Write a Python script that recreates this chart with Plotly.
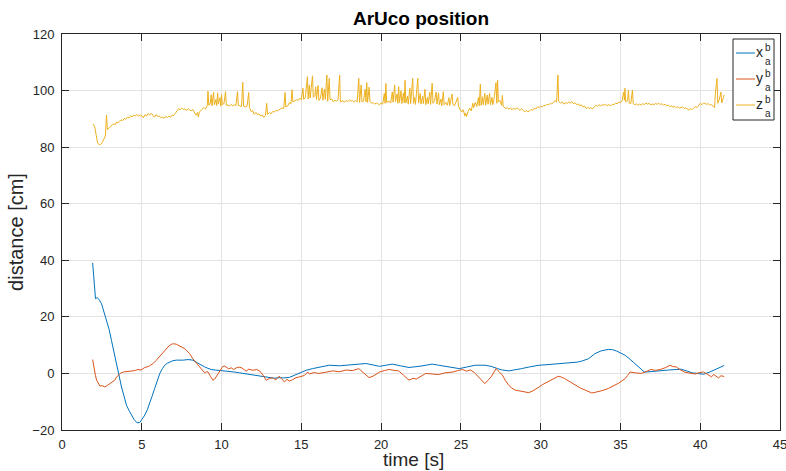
import plotly.graph_objects as go

# ---- ArUco marker position over time (cm) ----

# x component
t_x = [1.92, 2.02, 2.1, 2.2, 2.33, 2.48, 2.6, 2.79, 2.95, 3.1, 3.25, 3.42, 3.57, 3.73, 3.9, 4.04,
       4.2, 4.35, 4.52, 4.71, 4.88, 5.03, 5.19, 5.35, 5.5, 5.65, 5.81, 5.97, 6.13, 6.29, 6.44, 6.6,
       6.75, 6.95, 7.17, 7.4, 7.6, 7.9, 8.2, 8.5, 8.7, 8.94, 9.15, 9.35, 9.6, 9.88, 10.2, 10.5,
       10.8, 11.13, 11.45, 11.75, 12.05, 12.38, 12.7, 13.0, 13.3, 13.6, 13.9, 14.25, 14.5, 14.77,
       15.05, 15.3, 15.7, 16.2, 16.75, 17.4, 18.0, 18.5, 19.04, 19.5, 19.9, 20.3, 20.7, 21.2,
       21.75, 22.5, 23.2, 23.6, 24.0, 24.5, 24.9, 25.4, 25.9, 26.5, 26.9, 27.3, 27.6, 28.0,
       28.4, 28.8, 29.3, 29.9, 30.4, 30.9, 31.4, 31.96, 32.3, 32.6, 33.0, 33.4, 33.8, 34.25,
       34.5, 34.77, 35.05, 35.3, 35.6, 35.9, 36.2, 36.5, 36.85, 37.2, 37.6, 38.0, 38.4, 38.8,
       39.15, 39.5, 39.85, 40.2, 40.6, 40.95, 41.3, 41.5]
x_ab = [39.1, 30.5, 26.4, 26.8, 26.1, 24.6, 22.4, 19.4, 15.6, 11.7, 7.6, 3.5, -0.7, -4.8, -8.3, -11.2,
        -13.1, -14.7, -16.3, -17.5, -17.3, -16.1, -14.7, -12.8, -10.6, -8.0, -5.3, -2.6, 0.0, 1.7, 2.9, 3.6,
        4.1, 4.5, 4.7, 4.6, 4.7, 4.9, 4.7, 3.7, 3.0, 2.3, 1.8, 1.4, 1.2, 1.1, 0.9, 0.8,
        0.5, 0.2, -0.1, -0.3, -0.6, -1.0, -1.3, -1.6, -1.7, -1.5, -1.6, -1.4, -0.8, 0.0,
        0.6, 1.1, 1.7, 2.3, 2.9, 2.7, 2.9, 3.1, 3.5, 3.0, 2.5, 2.9, 3.3, 2.7,
        2.1, 2.6, 3.3, 2.9, 2.5, 2.1, 1.7, 2.3, 2.9, 2.9, 2.5, 1.7, 1.2, 0.9,
        1.2, 1.7, 2.3, 2.9, 3.1, 3.3, 3.4, 3.7, 4.0, 4.4, 5.2, 7.0, 8.0, 8.5,
        8.4, 7.9, 7.2, 6.4, 5.0, 3.5, 2.0, 0.5, 0.6, 0.9, 1.0, 1.2, 1.3, 1.5,
        0.9, 0.2, 0.0, -0.3, 0.5, 1.5, 2.5, 2.8]

# y component
t_y = [1.92, 2.02, 2.1, 2.17, 2.28, 2.38, 2.5, 2.69, 2.85, 3.0, 3.15, 3.3, 3.42, 3.52, 3.65, 3.83,
       4.0, 4.2, 4.35, 4.55, 4.77, 4.95, 5.19, 5.4, 5.55, 5.71, 5.9, 6.13, 6.33, 6.54, 6.7, 6.85,
       7.0, 7.17, 7.33, 7.48, 7.65, 7.79, 8.0, 8.2, 8.4, 8.63, 8.8, 8.94, 9.05, 9.15, 9.3, 9.46,
       9.57, 9.67, 9.78, 9.88, 10.0, 10.08, 10.2, 10.3, 10.45, 10.6, 10.75, 10.9, 11.05, 11.23,
       11.4, 11.54, 11.7, 11.96, 12.2, 12.4, 12.6, 12.8, 13.0, 13.2, 13.4, 13.6, 13.75, 13.94,
       14.1, 14.25, 14.45, 14.67, 14.9, 15.2, 15.4, 15.5, 15.8, 16.1, 16.5, 16.96, 17.4, 17.8,
       18.2, 18.6, 18.9, 19.25, 19.55, 19.9, 20.2, 20.5, 20.8, 21.1, 21.4, 21.75, 22.0, 22.2,
       22.5, 22.8, 23.2, 23.6, 24.0, 24.5, 24.8, 25.1, 25.35, 25.6, 25.85, 26.1, 26.3, 26.5,
       26.7, 26.9, 27.05, 27.2, 27.4, 27.6, 27.8, 28.0, 28.2, 28.4, 28.7, 29.0, 29.25, 29.5,
       29.7, 29.9, 30.1, 30.3, 30.5, 30.7, 30.9, 31.1, 31.3, 31.5, 31.85, 32.2, 32.5, 32.8,
       33.0, 33.2, 33.4, 33.6, 33.9, 34.25, 34.6, 34.9, 35.1, 35.3, 35.45, 35.6, 35.95, 36.3,
       36.6, 36.9, 37.2, 37.5, 37.8, 38.1, 38.3, 38.5, 38.75, 39.0, 39.35, 39.7, 39.95, 40.2,
       40.45, 40.7, 40.85, 41.0, 41.15, 41.3, 41.5]
y_ab = [4.9, 1.1, -0.8, -2.4, -3.8, -4.5, -4.3, -4.8, -4.2, -3.6, -3.0, -2.4, -1.3, -0.6, 0.0, 0.5,
        0.6, 0.9, 0.8, 1.0, 1.4, 1.2, 2.1, 2.4, 2.9, 3.5, 4.6, 6.1, 7.4, 8.8, 9.7, 10.3,
        10.5, 10.3, 9.9, 9.3, 8.9, 8.2, 7.0, 5.2, 3.8, 2.1, 1.0, 0.2, 0.6, 0.5, -1.0, -2.4,
        -2.0, -1.2, -0.3, 0.5, 1.8, 2.5, 2.6, 2.1, 1.6, 2.0, 1.4, 1.9, 2.2, 2.1,
        1.3, 0.8, 1.5, 1.1, 1.4, 0.8, -0.6, -2.4, -1.8, -1.5, -2.3, -1.0, -1.8, -3.0,
        -2.1, -2.7, -2.2, -1.5, -1.2, -0.7, 0.5, -0.2, 0.3, 0.0, 0.4, 0.9, 0.6, 1.2,
        1.0, 1.7, 0.2, -1.5, -0.8, 0.5, 1.0, 1.4, 1.1, 0.9, -0.6, -2.4, -1.7, -2.0,
        -1.0, 0.0, -0.2, -0.4, 0.2, 0.5, 1.0, 1.4, 0.8, 1.2, 0.3, -1.2, -2.4, -3.6,
        -2.4, -1.2, 0.2, 1.7, 0.6, -0.6, -2.6, -4.2, -5.2, -5.9, -6.2, -6.5, -6.8, -6.2,
        -5.6, -4.8, -4.0, -3.4, -2.8, -2.2, -1.5, -1.0, -1.3, -1.8, -3.0, -4.2, -5.2, -5.9,
        -6.3, -6.9, -6.7, -6.5, -6.0, -5.3, -4.4, -3.4, -2.6, -1.8, -0.7, 0.5, 0.2, 0.0,
        0.6, 1.4, 1.1, 1.4, 2.0, 2.9, 2.4, 2.3, 1.3, 0.5, 0.1, -0.2, 0.3, 0.5,
        -0.3, -1.2, -0.4, -0.9, -1.6, -0.8, -1.1]

# z component
t_z = [1.95, 2.05, 2.15, 2.23, 2.32, 2.42, 2.52, 2.62, 2.72, 2.79, 2.84, 2.95, 3.05, 3.15, 3.25, 3.35,
       3.42, 3.5, 3.6, 3.7, 3.8, 3.9, 4.0, 4.1, 4.2, 4.3, 4.4, 4.5, 4.6, 4.7, 4.8, 4.9,
       5.0, 5.1, 5.2, 5.3, 5.4, 5.5, 5.6, 5.7, 5.8, 5.9, 6.0, 6.1, 6.2, 6.3, 6.4, 6.5,
       6.6, 6.7, 6.8, 6.9, 7.0, 7.1, 7.2, 7.3, 7.4, 7.5, 7.6, 7.7, 7.8, 7.9, 8.0, 8.1,
       8.2, 8.3, 8.4, 8.5, 8.55, 8.6, 8.7, 8.8, 8.9, 9.0, 9.1, 9.15, 9.2, 9.3, 9.35, 9.4,
       9.5, 9.55, 9.65, 9.7, 9.75, 9.8, 9.9, 9.95, 10.0, 10.05, 10.15, 10.25, 10.3, 10.4, 10.5, 10.6,
       10.7, 10.8, 10.9, 11.0, 11.05, 11.15, 11.25, 11.33, 11.38, 11.5, 11.6, 11.7, 11.75, 11.85, 11.95, 12.05,
       12.15, 12.25, 12.35, 12.45, 12.55, 12.65, 12.75, 12.83, 12.88, 13.0, 13.1, 13.2, 13.3, 13.4, 13.5, 13.6,
       13.7, 13.8, 13.9, 13.98, 14.03, 14.15, 14.25, 14.35, 14.42, 14.47, 14.6, 14.7, 14.8, 14.9, 15.0, 15.1,
       15.15, 15.25, 15.38, 15.43, 15.5, 15.55, 15.7, 15.75, 15.85, 15.9, 15.95, 16.05, 16.1, 16.2, 16.3, 16.35,
       16.45, 16.5, 16.6, 16.65, 16.75, 16.8, 16.9, 17.0, 17.1, 17.2, 17.3, 17.4, 17.45, 17.6, 17.7, 17.8,
       17.9, 18.0, 18.1, 18.2, 18.3, 18.4, 18.5, 18.6, 18.65, 18.75, 18.8, 18.9, 19.0, 19.05, 19.1, 19.15,
       19.25, 19.3, 19.4, 19.5, 19.6, 19.7, 19.8, 19.9, 20.0, 20.1, 20.2, 20.25, 20.3, 20.35, 20.5, 20.6,
       20.7, 20.75, 20.85, 20.9, 21.0, 21.05, 21.1, 21.15, 21.25, 21.3, 21.4, 21.45, 21.5, 21.55, 21.65, 21.7,
       21.8, 21.85, 21.98, 22.03, 22.1, 22.15, 22.3, 22.35, 22.45, 22.5, 22.6, 22.65, 22.75, 22.8, 22.9, 22.95,
       23.05, 23.1, 23.2, 23.25, 23.35, 23.45, 23.5, 23.6, 23.65, 23.75, 23.8, 23.9, 23.95, 24.05, 24.15, 24.25,
       24.3, 24.45, 24.5, 24.6, 24.8, 24.85, 24.95, 25.05, 25.15, 25.25, 25.3, 25.35, 25.45, 25.55, 25.65, 25.75,
       25.8, 25.9, 26.0, 26.1, 26.15, 26.22, 26.27, 26.35, 26.4, 26.5, 26.55, 26.65, 26.7, 26.8, 26.85, 26.95,
       27.0, 27.1, 27.2, 27.25, 27.3, 27.35, 27.45, 27.55, 27.6, 27.65, 27.8, 27.9, 28.0, 28.1, 28.2, 28.3,
       28.4, 28.5, 28.6, 28.7, 28.8, 28.9, 29.0, 29.1, 29.2, 29.3, 29.4, 29.5, 29.6, 29.7, 29.8, 29.9,
       30.0, 30.1, 30.2, 30.3, 30.4, 30.5, 30.6, 30.7, 30.8, 30.9, 31.0, 31.08, 31.13, 31.25, 31.35, 31.45,
       31.55, 31.65, 31.75, 31.85, 31.95, 32.05, 32.15, 32.25, 32.35, 32.45, 32.55, 32.65, 32.75, 32.85, 32.95, 33.05,
       33.15, 33.25, 33.35, 33.45, 33.55, 33.65, 33.75, 33.85, 33.95, 34.05, 34.15, 34.3, 34.4, 34.5, 34.6, 34.7,
       34.8, 34.9, 35.0, 35.1, 35.2, 35.25, 35.28, 35.33, 35.45, 35.5, 35.55, 35.65, 35.75, 35.8, 35.9, 36.0,
       36.1, 36.2, 36.3, 36.4, 36.5, 36.6, 36.7, 36.8, 36.9, 37.0, 37.1, 37.2, 37.3, 37.4, 37.5, 37.6,
       37.7, 37.8, 37.9, 38.0, 38.1, 38.2, 38.3, 38.4, 38.5, 38.6, 38.7, 38.8, 38.9, 39.0, 39.1, 39.2,
       39.3, 39.4, 39.5, 39.6, 39.7, 39.8, 39.9, 40.0, 40.1, 40.2, 40.3, 40.4, 40.5, 40.6, 40.7, 40.8,
       40.9, 40.95, 41.05, 41.1, 41.2, 41.3, 41.35, 41.45, 41.5]
z_ab = [88.2, 87.2, 84.0, 81.5, 80.9, 81.0, 81.6, 82.6, 84.0, 91.4, 86.2, 86.8, 87.5, 87.9, 88.2, 88.0,
        88.9, 88.5, 89.2, 89.6, 89.4, 90.2, 89.8, 90.6, 90.3, 91.1, 90.7, 91.3, 91.0, 91.6, 90.9, 91.4,
        91.1, 90.4, 91.5, 91.0, 91.9, 91.3, 92.0, 91.4, 90.6, 91.5, 90.8, 91.0, 90.4, 90.6, 90.2, 90.9,
        90.5, 91.0, 90.6, 91.3, 91.2, 91.9, 92.8, 93.6, 93.2, 93.8, 93.4, 93.5, 93.0, 93.6, 93.1, 92.9,
        93.3, 92.5, 91.3, 92.2, 90.6, 92.4, 93.0, 93.6, 94.0, 93.5, 94.6, 99.8, 94.8, 95.6, 98.5, 94.6,
        99.4, 95.0, 96.8, 94.7, 99.2, 95.3, 97.5, 94.5, 98.6, 95.0, 95.4, 99.6, 94.8, 94.9, 94.5, 95.1,
        94.6, 95.0, 94.7, 99.6, 94.8, 94.6, 94.4, 102.9, 94.5, 94.2, 94.5, 99.3, 94.0, 92.6, 92.9, 91.6,
        92.3, 91.5, 91.8, 91.0, 91.4, 90.5, 91.2, 95.5, 91.6, 92.2, 91.8, 92.6, 92.4, 93.0, 92.8, 93.2,
        93.5, 93.9, 93.6, 99.3, 94.2, 94.6, 95.8, 95.2, 100.3, 96.0, 96.4, 96.8, 96.5, 97.3, 96.7, 100.8,
        96.9, 97.5, 104.9, 97.0, 102.0, 97.4, 105.2, 97.6, 98.3, 101.3, 96.8, 101.8, 96.5, 97.3, 101.0, 96.6,
        100.5, 96.9, 105.5, 96.2, 104.3, 96.8, 97.0, 96.0, 96.6, 96.2, 96.8, 105.5, 96.0, 96.4, 95.9, 96.5,
        96.1, 96.7, 96.3, 96.4, 95.9, 96.5, 96.0, 104.3, 95.8, 102.0, 96.0, 96.3, 100.5, 96.0, 102.8, 95.8,
        101.2, 96.2, 95.5, 95.8, 95.2, 95.6, 95.3, 95.0, 95.6, 95.2, 99.0, 95.5, 102.5, 95.8, 96.3, 95.6,
        99.5, 95.9, 102.0, 96.1, 98.8, 95.5, 101.4, 95.8, 100.0, 95.4, 99.2, 95.7, 103.6, 95.6, 98.0, 95.2,
        100.8, 95.4, 104.3, 95.5, 97.5, 95.1, 104.3, 95.6, 99.0, 95.2, 98.0, 95.4, 100.5, 95.0, 97.6, 95.3,
        99.4, 95.1, 102.6, 95.5, 96.4, 99.5, 95.2, 99.2, 95.0, 97.0, 94.6, 99.6, 95.0, 95.8, 94.8, 97.5,
        94.7, 98.8, 95.1, 94.6, 97.6, 94.5, 93.3, 92.4, 93.2, 91.0, 92.0, 90.8, 92.6, 93.8, 92.8, 95.5,
        94.0, 95.8, 94.4, 97.5, 94.6, 102.3, 94.8, 97.8, 95.0, 99.0, 94.8, 98.4, 95.2, 99.0, 95.0, 97.6,
        95.0, 97.8, 102.8, 95.5, 103.7, 96.0, 96.5, 94.8, 98.3, 94.5, 93.6, 94.0, 93.4, 93.9, 93.2, 93.8,
        93.3, 93.9, 93.5, 93.0, 93.6, 92.8, 92.4, 93.0, 92.5, 92.8, 93.4, 93.0, 93.8, 93.5, 94.3, 94.0,
        94.5, 94.2, 94.8, 94.6, 95.2, 94.9, 95.5, 95.3, 95.9, 96.4, 96.0, 105.5, 96.2, 95.6, 96.0, 95.2,
        95.7, 95.4, 96.0, 95.5, 96.1, 95.4, 95.7, 95.0, 95.3, 94.6, 95.0, 94.2, 94.5, 93.6, 94.1, 93.6,
        93.9, 93.5, 94.2, 94.8, 94.4, 95.0, 94.6, 95.0, 94.8, 95.2, 94.7, 95.0, 94.6, 95.2, 95.0, 95.6,
        95.3, 96.0, 95.7, 96.4, 99.5, 96.6, 100.8, 96.0, 96.4, 100.2, 95.6, 95.4, 100.2, 95.4, 95.0, 95.3,
        94.8, 95.2, 94.9, 95.4, 95.0, 95.6, 95.2, 95.5, 94.9, 95.3, 95.0, 95.5, 95.1, 95.6, 95.0, 95.4,
        94.8, 95.2, 94.6, 94.9, 94.3, 94.6, 94.1, 94.5, 93.9, 94.3, 93.8, 93.9, 94.2, 93.6, 93.9, 93.4,
        93.1, 93.6, 93.3, 93.9, 94.3, 94.0, 94.6, 95.5, 95.0, 95.6, 95.5, 95.1, 95.4, 94.9, 95.0, 94.6,
        94.0, 99.0, 104.3, 95.5, 97.0, 99.5, 95.6, 97.5, 98.5]

# axis ticks
x_ticks = [0, 5, 10, 15, 20, 25, 30, 35, 40, 45]
y_ticks = [-20, 0, 20, 40, 60, 80, 100, 120]

series_names = ["x", "y", "z"]
series_colors = ["#0072BD", "#D95319", "#EDB120"]

FONT = "Liberation Sans, Arial, Helvetica, sans-serif"
INK = "#262626"

W, H = 786, 471
L, R, T, B = 62, 780, 34, 430  # plot-area edges in pixels


def px(xp, yp):
    """Pixel position -> paper coordinates of the plot area."""
    return (xp - L) / (R - L), (B - yp) / (B - T)


fig = go.Figure()
for (t, v), name, color in zip([(t_x, x_ab), (t_y, y_ab), (t_z, z_ab)], series_names, series_colors):
    fig.add_trace(go.Scatter(x=t, y=v, mode="lines", name=name,
                             line=dict(color=color, width=1), showlegend=False))

axis_common = dict(
    showline=True, linecolor=INK, linewidth=1, mirror="ticks",
    ticks="inside", ticklen=7, tickcolor=INK, tickwidth=1,
    showgrid=True, gridcolor="#e3e3e3", gridwidth=1, zeroline=False,
    tickfont=dict(family=FONT, size=13, color=INK),
    ticklabeloverflow="allow",
)

fig.update_xaxes(range=[0, 45], tickvals=x_ticks, ticklabelstandoff=2, **axis_common)
fig.update_yaxes(range=[-20, 120], tickvals=y_ticks, ticklabelstandoff=4,
                 title=dict(text="distance [cm]", font=dict(family=FONT, size=20, color=INK), standoff=3),
                 **axis_common)

shapes = []
annotations = []

# x-axis label, sitting on the bottom edge of the figure
lx, ly = px(413, 471)
annotations.append(dict(text="time [s]", xref="paper", yref="paper", x=lx, y=ly,
                        xanchor="center", yanchor="bottom", showarrow=False, borderpad=0,
                        font=dict(family=FONT, size=19, color=INK)))

# legend box with stacked super/subscripts
bx0, by0 = px(733, 39)
bx1, by1 = px(774, 120)
shapes.append(dict(type="rect", xref="paper", yref="paper", x0=bx0, y0=by1, x1=bx1, y1=by0,
                   line=dict(color=INK, width=1), fillcolor="white", layer="above"))
rows = [53, 79, 105]
for name, color, yc in zip(series_names, series_colors, rows):
    lx0, ly0 = px(736, yc)
    lx1, _ = px(755, yc)
    shapes.append(dict(type="line", xref="paper", yref="paper", x0=lx0, x1=lx1, y0=ly0, y1=ly0,
                       line=dict(color=color, width=1), layer="above"))
    ax_, ay_ = px(759.5, yc - 1)
    annotations.append(dict(text=name, xref="paper", yref="paper", x=ax_, y=ay_,
                            xanchor="center", yanchor="middle", showarrow=False,
                            font=dict(family=FONT, size=14, color=INK)))
    sx, sy = px(767.5, yc - 6)
    annotations.append(dict(text="b", xref="paper", yref="paper", x=sx, y=sy,
                            xanchor="center", yanchor="middle", showarrow=False,
                            font=dict(family=FONT, size=10, color=INK)))
    ux, uy = px(767.5, yc + 8)
    annotations.append(dict(text="a", xref="paper", yref="paper", x=ux, y=uy,
                            xanchor="center", yanchor="middle", showarrow=False,
                            font=dict(family=FONT, size=10, color=INK)))

fig.update_layout(
    width=W, height=H,
    margin=dict(l=L, r=W - R, t=T, b=H - B, autoexpand=False),
    paper_bgcolor="white", plot_bgcolor="white",
    title=dict(text="<b>ArUco position</b>", x=(L + R) / 2 / W, xanchor="center",
               y=1 - 18 / H, yanchor="middle",
               font=dict(family=FONT, size=19, color="#000000")),
    shapes=shapes, annotations=annotations,
    showlegend=False,
)

fig.write_html("out.html")
